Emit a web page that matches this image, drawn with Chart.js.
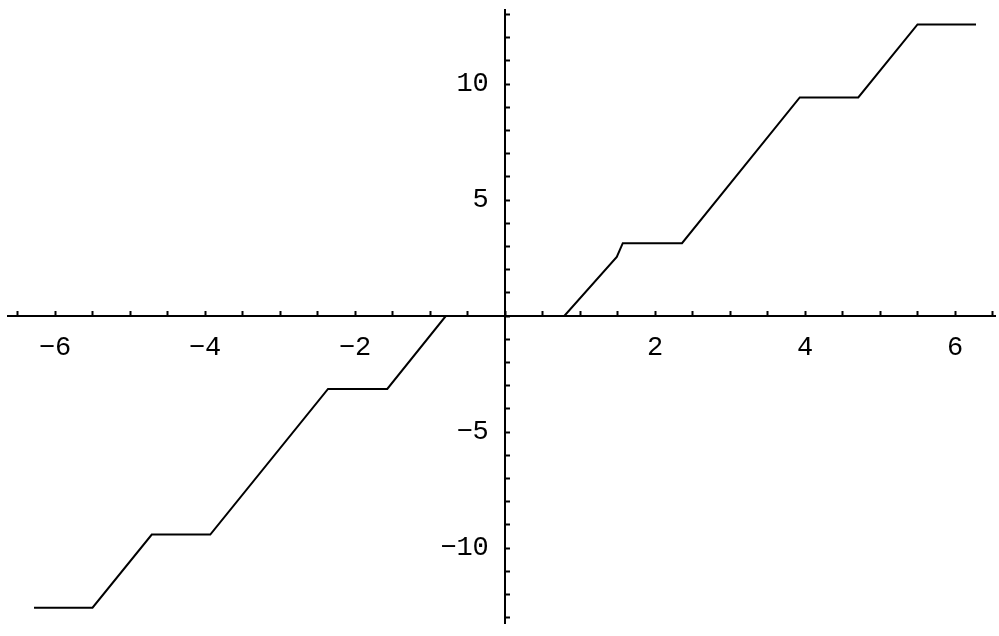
<!DOCTYPE html>
<html>
<head>
<meta charset="utf-8">
<script src="https://cdn.jsdelivr.net/npm/chart.js@4"></script>
<style>
    body { margin: 0; background: #fff; }
    #wrap { width: 999px; height: 636px; }
</style>
</head>
<body>
<div id="wrap"><canvas id="grafico"></canvas></div>
<script>
// vertices of the step curve
let curveX = [-6.28, -5.50, -4.71, -3.93, -2.36, -1.57, -0.79, 0.79, 1.49, 1.57, 2.36, 3.93, 4.71, 5.50, 6.28]
let curveY = [-12.57, -12.57, -9.42, -9.42, -3.14, -3.14, 0, 0, 2.55, 3.14, 3.14, 9.42, 9.42, 12.57, 12.57]

let xTickLabels = [-6, -4, -2, 2, 4, 6]
let yTickLabels = [-10, -5, 5, 10]

function formatTick(v, labels) {
    if (!labels.includes(v)) return ''
    return v < 0 ? '\u2212' + Math.abs(v) : String(v)
}

// axes sit on the origin, so they must not eat space in the layout
function noSpace(scale) {
    if (scale.isHorizontal()) scale.height = 0
    else scale.width = 0
    scale.paddingLeft = 0
    scale.paddingRight = 0
    scale.paddingTop = 0
    scale.paddingBottom = 0
}

let puntos = curveX.map((x, i) => ({ x: x, y: curveY[i] }))

let fuente = { family: 'Liberation Mono', size: 27 }

new Chart(document.getElementById('grafico'), {
    type: 'scatter',
    data: {
        datasets: [{
            data: puntos,
            showLine: true,
            borderColor: '#000',
            borderWidth: 2,
            pointRadius: 0,
            tension: 0
        }]
    },
    options: {
        responsive: true,
        maintainAspectRatio: false,
        animation: false,
        layout: { padding: { left: 8, right: 4, top: 10, bottom: 13 } },
        plugins: { legend: { display: false }, tooltip: { enabled: false } },
        scales: {
            x: {
                type: 'linear',
                position: { y: 0 },
                min: -6.627,
                max: 6.533,
                afterFit: noSpace,
                border: { color: '#000', width: 2 },
                // negative length turns the tick marks upwards
                grid: { drawOnChartArea: false, tickLength: -6, tickColor: '#000', tickWidth: 2 },
                ticks: {
                    stepSize: 0.5,
                    autoSkip: false,
                    includeBounds: false,
                    maxRotation: 0,
                    padding: 22,
                    color: '#000',
                    font: fuente,
                    callback: (v) => formatTick(v, xTickLabels)
                }
            },
            y: {
                type: 'linear',
                position: { x: 0 },
                min: -13.23,
                max: 13.19,
                afterFit: noSpace,
                border: { color: '#000', width: 2 },
                grid: { drawOnChartArea: false, tickLength: -6, tickColor: '#000', tickWidth: 2 },
                ticks: {
                    stepSize: 1,
                    autoSkip: false,
                    includeBounds: false,
                    color: '#000',
                    font: fuente,
                    // labels are right-aligned on the axis line, the space keeps them off it
                    callback: (v) => {
                        let t = formatTick(v, yTickLabels)
                        return t === '' ? '' : t + ' '
                    }
                }
            }
        }
    }
})
</script>
</body>
</html>
